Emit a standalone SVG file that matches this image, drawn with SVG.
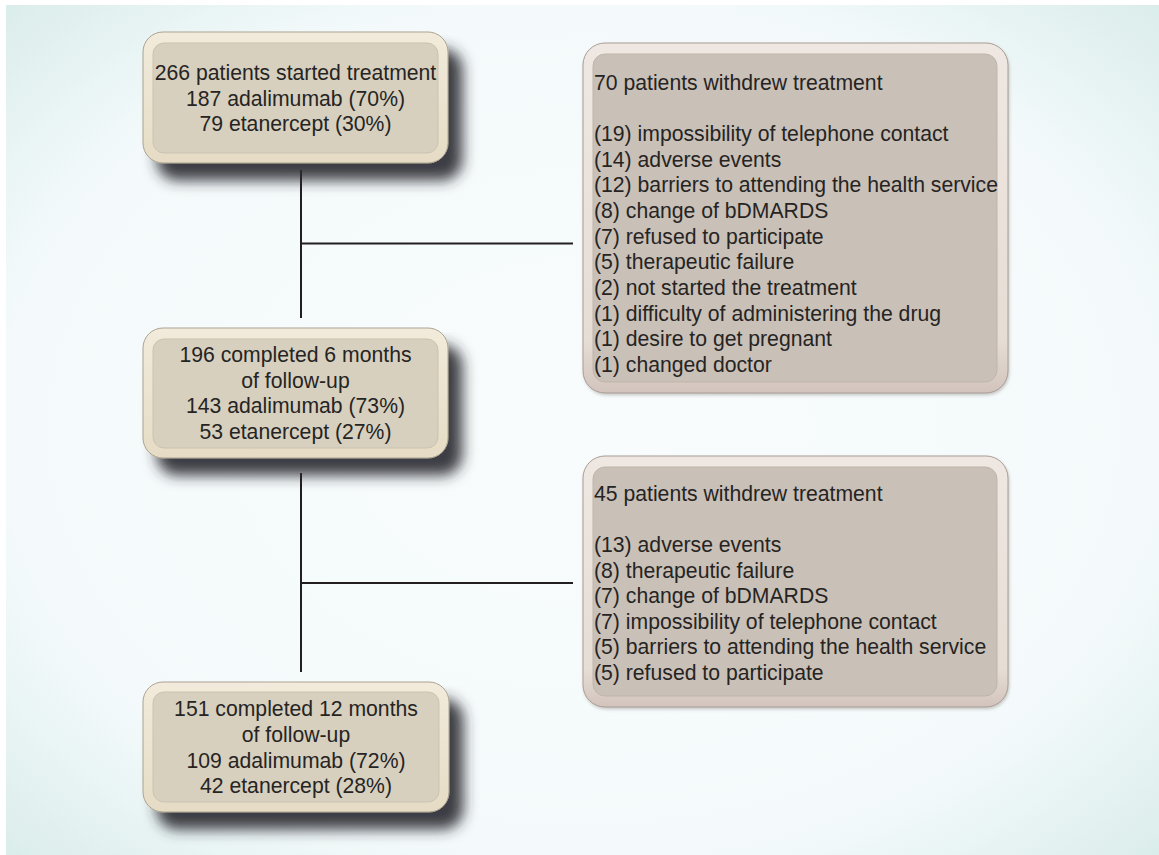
<svg xmlns="http://www.w3.org/2000/svg" width="1159" height="855" viewBox="0 0 1159 855">
<style>
text{font-family:"Liberation Sans",Arial,sans-serif;font-size:21.2px;fill:#262423}
.c{text-anchor:middle}
.conn{stroke:#231f20;stroke-width:2;fill:none}
.lo{fill:url(#lgOut);stroke:#aaa291;stroke-width:1}
.li{fill:#d7d0bf;stroke:#cbc3b0;stroke-width:1}
.ro{fill:url(#rgOut);stroke:#a99c94;stroke-width:1}
.ri{fill:#c9c0b7;stroke:#bfb5ab;stroke-width:1}
</style>
<defs>
<radialGradient id="bg" cx="50%" cy="50%" r="72%">
<stop offset="0" stop-color="#f8fcfd"/>
<stop offset="0.7" stop-color="#f4fafb"/>
<stop offset="1" stop-color="#d9ecea"/>
</radialGradient>
<linearGradient id="lgOut" x1="0" y1="0" x2="0" y2="1">
<stop offset="0" stop-color="#f2ebdb"/>
<stop offset="1" stop-color="#e6dcc5"/>
</linearGradient>
<linearGradient id="rgOut" x1="0" y1="0" x2="0" y2="1">
<stop offset="0" stop-color="#efe8e2"/>
<stop offset="0.85" stop-color="#e6ddd5"/>
<stop offset="1" stop-color="#d2c4bc"/>
</linearGradient>
<filter id="shadow" x="-10%" y="-10%" width="135%" height="160%">
<feGaussianBlur in="SourceAlpha" stdDeviation="7"/>
<feOffset dx="14" dy="17" result="b"/>
<feFlood flood-color="#2a2a30" flood-opacity="0.9"/>
<feComposite in2="b" operator="in"/>
<feMerge><feMergeNode/><feMergeNode in="SourceGraphic"/></feMerge>
</filter>
<filter id="soft" x="-5%" y="-5%" width="110%" height="115%">
<feGaussianBlur in="SourceAlpha" stdDeviation="1.5"/>
<feOffset dx="1" dy="2" result="b"/>
<feFlood flood-color="#8a8480" flood-opacity="0.4"/>
<feComposite in2="b" operator="in"/>
<feMerge><feMergeNode/><feMergeNode in="SourceGraphic"/></feMerge>
</filter>
</defs>
<rect x="0" y="0" width="1159" height="855" fill="#ffffff"/>
<rect x="6" y="5" width="1153" height="850" fill="url(#bg)"/>

<g id="connectors">
<path class="conn" d="M301 170 V318 M301 243.5 H573 M301 473 V672 M301 583 H573"/>
</g>

<g id="node-start">
<g filter="url(#shadow)">
<rect class="lo" x="143" y="32" width="305" height="131" rx="20"/>
</g>
<rect class="li" x="153" y="43" width="285" height="110" rx="11"/>
<text class="c" x="295.5" y="80">266 patients started treatment</text>
<text class="c" x="295.5" y="105.5">187 adalimumab (70%)</text>
<text class="c" x="295.5" y="131">79 etanercept (30%)</text>
</g>

<g id="node-6months">
<g filter="url(#shadow)">
<rect class="lo" x="143" y="328" width="305" height="130" rx="20"/>
</g>
<rect class="li" x="153" y="339" width="285" height="109" rx="11"/>
<text class="c" x="295.5" y="362">196 completed 6 months</text>
<text class="c" x="295.5" y="387.5">of follow-up</text>
<text class="c" x="295.5" y="413">143 adalimumab (73%)</text>
<text class="c" x="295.5" y="438.5">53 etanercept (27%)</text>
</g>

<g id="node-12months">
<g filter="url(#shadow)">
<rect class="lo" x="143" y="682" width="306" height="130" rx="20"/>
</g>
<rect class="li" x="153" y="692" width="286" height="110" rx="11"/>
<text class="c" x="296" y="716">151 completed 12 months</text>
<text class="c" x="296" y="741.5">of follow-up</text>
<text class="c" x="296" y="767.5">109 adalimumab (72%)</text>
<text class="c" x="296" y="793">42 etanercept (28%)</text>
</g>

<g id="node-withdrew-70">
<g filter="url(#soft)">
<rect class="ro" x="583" y="43" width="425" height="350" rx="22"/>
</g>
<rect class="ri" x="593" y="54" width="404" height="328" rx="12"/>
<text x="594" y="90">70 patients withdrew treatment</text>
<text x="594" y="141">(19) impossibility of telephone contact</text>
<text x="594" y="166.7">(14) adverse events</text>
<text x="594" y="192.3">(12) barriers to attending the health service</text>
<text x="594" y="218">(8) change of bDMARDS</text>
<text x="594" y="243.7">(7) refused to participate</text>
<text x="594" y="269.3">(5) therapeutic failure</text>
<text x="594" y="295">(2) not started the treatment</text>
<text x="594" y="320.7">(1) difficulty of administering the drug</text>
<text x="594" y="346.3">(1) desire to get pregnant</text>
<text x="594" y="372">(1) changed doctor</text>
</g>

<g id="node-withdrew-45">
<g filter="url(#soft)">
<rect class="ro" x="583" y="456" width="425" height="251" rx="22"/>
</g>
<rect class="ri" x="593" y="467" width="404" height="229" rx="12"/>
<text x="594" y="501">45 patients withdrew treatment</text>
<text x="594" y="552">(13) adverse events</text>
<text x="594" y="577.5">(8) therapeutic failure</text>
<text x="594" y="603">(7) change of bDMARDS</text>
<text x="594" y="628.5">(7) impossibility of telephone contact</text>
<text x="594" y="654">(5) barriers to attending the health service</text>
<text x="594" y="679.5">(5) refused to participate</text>
</g>
</svg>
